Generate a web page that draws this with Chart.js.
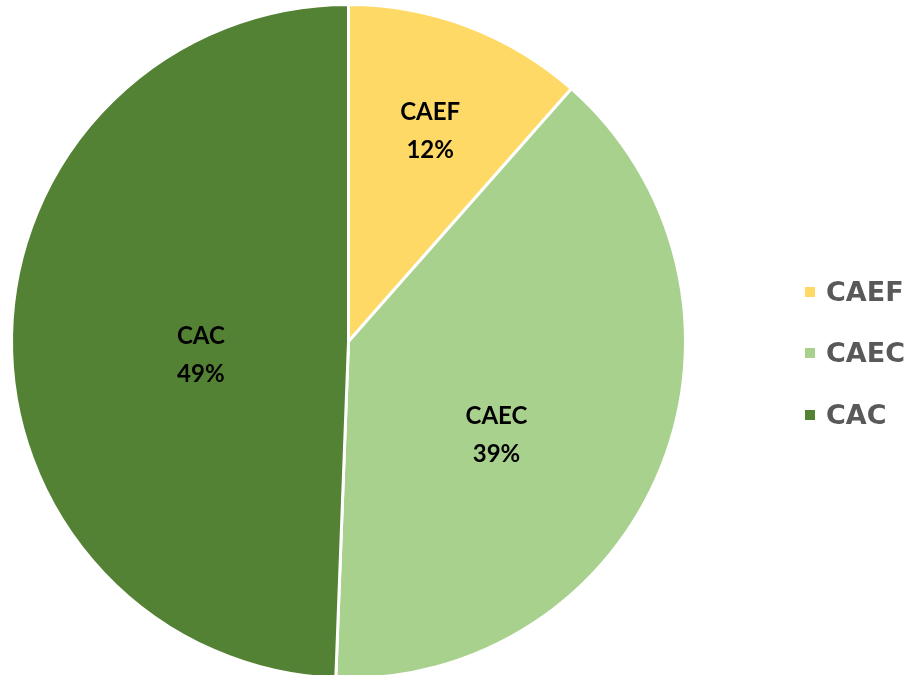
<!DOCTYPE html>
<html>
<head>
<meta charset="utf-8">
<script src="https://cdn.jsdelivr.net/npm/chart.js@4/dist/chart.umd.min.js"></script>
<style>
  html, body { margin: 0; padding: 0; background: #fff; overflow: hidden; }
  #wrap { position: relative; width: 913px; height: 675px; overflow: hidden; }
  #legend { position: absolute; left: 805px; top: 0; font-family: "DejaVu Sans", Verdana, sans-serif; font-weight: bold; font-size: 27px; color: #595959; }
  .item { position: absolute; left: 0; white-space: nowrap; height: 30px; line-height: 30px; }
  .box { position: absolute; left: 0; top: 10px; width: 10px; height: 10px; }
  .txt { position: absolute; left: 21px; top: 0; }
</style>
</head>
<body>
<div id="wrap">
  <canvas id="pieChart" width="913" height="682"></canvas>
  <div id="legend"></div>
</div>
<script>
const labels = ['CAEF', 'CAEC', 'CAC'];
const shares = [11.5, 39.1, 49.4];
const shownPct = ['12%', '39%', '49%'];
const colors = ['#FFD966', '#A9D18E', '#548235'];

// label placement tweaks (fraction of radius, angle shift in degrees)
const labelDist = [0.67, 0.52, 0.44];
const labelShift = [0.5, 10.6, -6.4];

const sliceLabels = {
    id: 'sliceLabels',
    afterDatasetsDraw(chart) {
        const ctx = chart.ctx;
        const meta = chart.getDatasetMeta(0);
        ctx.save();
        ctx.font = 'bold 24px Lato, "Liberation Sans", sans-serif';
        ctx.fillStyle = '#000';
        ctx.textAlign = 'center';
        ctx.textBaseline = 'middle';
        meta.data.forEach((arc, i) => {
            const mid = (arc.startAngle + arc.endAngle) / 2 + labelShift[i] * Math.PI / 180;
            const r = arc.outerRadius * labelDist[i];
            const x = arc.x + Math.cos(mid) * r;
            const y = arc.y + Math.sin(mid) * r;
            ctx.fillText(labels[i], x, y - 19);
            ctx.fillText(shownPct[i], x, y + 19);
        });
        ctx.restore();
    }
};

const ctx = document.getElementById('pieChart').getContext('2d');
const pieChart = new Chart(ctx, {
    type: 'pie',
    data: {
        labels: labels,
        datasets: [{
            data: shares,
            backgroundColor: colors,
            borderColor: '#ffffff',
            borderWidth: 3
        }]
    },
    options: {
        responsive: false,
        animation: false,
        layout: {
            padding: { left: 10, top: 3, right: 226, bottom: 2 }
        },
        plugins: {
            legend: { display: false },
            tooltip: { enabled: false }
        }
    },
    plugins: [sliceLabels]
});

// legend
const legend = document.getElementById('legend');
const legendY = [277, 338, 400];
labels.forEach((name, i) => {
    const item = document.createElement('div');
    item.className = 'item';
    item.style.top = legendY[i] + 'px';
    item.innerHTML = '<span class="box" style="background:' + colors[i] + '"></span><span class="txt">' + name + '</span>';
    legend.appendChild(item);
});
</script>
</body>
</html>
